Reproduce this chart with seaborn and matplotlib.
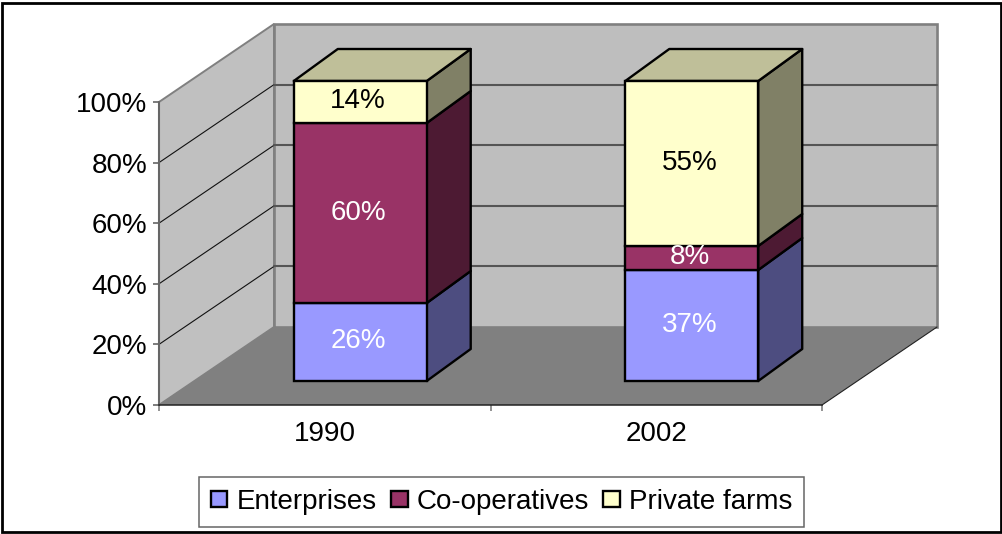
import numpy as np
import pandas as pd
import seaborn as sb
import matplotlib
matplotlib.use('Agg')
import matplotlib.pyplot as plt
from matplotlib.patches import Polygon, Rectangle
from matplotlib.transforms import Affine2D, IdentityTransform

years = ['1990', '2002']
series_names = ['Enterprises', 'Co-operatives', 'Private farms']
enterprises = [26, 37]
cooperatives = [60, 8]
private_farms = [14, 55]
y_ticks = [0, 20, 40, 60, 80, 100]

series_values = [enterprises, cooperatives, private_farms]
colors = ['#9999FF', '#993366', '#FFFFCC']
label_colors = ['white', 'white', 'black']

sb.set_theme(style='white')
plt.rcParams['font.family'] = ['Liberation Sans', 'DejaVu Sans']
plt.rcParams['text.color'] = 'black'
fontsize = 20

W, H = 1003, 534
fig = plt.figure(figsize=(W / 100, H / 100), dpi=100)

# front plane of the fake 3d box, in pixels
left, right, base, top = 159, 822, H - 405, H - 102
ax = fig.add_axes([left / W, base / H, (right - left) / W, (top - base) / H])
ax.patch.set_visible(False)

# bars first, then push them into the box
bottom = np.zeros(len(years))
for name, vals, col in zip(series_names, series_values, colors):
    df = pd.DataFrame({'year': years, 'share': vals})
    sb.barplot(data=df, x='year', y='share', bottom=bottom, color=col, saturation=1,
               width=0.401, edgecolor='black', linewidth=1.7, ax=ax)
    bottom = bottom + np.array(vals)

ax.set_xlim(-0.5, 1.5)
ax.set_ylim(0, 100)

wall_shift = ax.transData + Affine2D().translate(115, 78)
bar_shift = ax.transData + Affine2D().translate(0, -base).scale(1, 300 / 303).translate(35.5, base + 24)

# walls and floor
wall_kw = dict(clip_on=False, zorder=0.5)
pts = lambda xy, tr: tr.transform(np.array(xy))
x0, x1 = ax.get_xlim()
ax.add_patch(Polygon(np.vstack([pts([(x0, 0), (x0, 100)], ax.transData),
                                pts([(x0, 100), (x0, 0)], wall_shift)]),
                     transform=IdentityTransform(), fc='#C0C0C0', ec='#808080', lw=1.4, **wall_kw))
ax.add_patch(Polygon(pts([(x0, 0), (x0, 100), (x1, 100), (x1, 0)], wall_shift),
                     transform=IdentityTransform(), fc='#BEBEBE', ec='#808080', lw=1.9, **wall_kw))
ax.add_patch(Polygon(np.vstack([pts([(x0, 0), (x1, 0)], ax.transData),
                                pts([(x1, 0), (x0, 0)], wall_shift)]),
                     transform=IdentityTransform(), fc='#808080', ec='none', clip_on=False, zorder=0.7))

# gridlines
for t in y_ticks[1:-1]:
    a = pts([(x0, t)], ax.transData)[0]
    b = pts([(x0, t)], wall_shift)[0]
    c = pts([(x1, t)], wall_shift)[0]
    ax.plot([a[0], b[0]], [a[1], b[1]], color='#111111', lw=0.8, transform=IdentityTransform(),
            clip_on=False, zorder=0.8)
    ax.plot([b[0], c[0]], [b[1], c[1]], color='#555555', lw=1.5, transform=IdentityTransform(),
            clip_on=False, zorder=0.8)
a = pts([(x1, 0)], ax.transData)[0]
b = pts([(x1, 0)], wall_shift)[0]
ax.plot([a[0], b[0]], [a[1], b[1]], color='#222222', lw=0.8, transform=IdentityTransform(),
        clip_on=False, zorder=0.8)

# bar side and top faces
dx, dy = 44, 32
for i, cont in enumerate(ax.containers):
    rgb = np.array(matplotlib.colors.to_rgb(colors[i]))
    for j, bar in enumerate(cont):
        bx, by, bw, bh = bar.get_x(), bar.get_y(), bar.get_width(), bar.get_height()
        bar.set_transform(bar_shift)
        bar.set_clip_on(False)
        bar.set_zorder(3)
        ll = pts([(bx + bw, by), (bx + bw, by + bh)], bar_shift)
        side = np.vstack([ll, ll[::-1] + [dx, dy]])
        ax.add_patch(Polygon(side, transform=IdentityTransform(), fc=rgb * 0.5, ec='black', lw=1.7,
                             clip_on=False, zorder=2, joinstyle='round'))
        if i == len(series_names) - 1:
            tt = pts([(bx, by + bh), (bx + bw, by + bh)], bar_shift)
            roof = np.vstack([tt, tt[::-1] + [dx, dy]])
            ax.add_patch(Polygon(roof, transform=IdentityTransform(), fc=rgb * 0.75, ec='black', lw=1.7,
                                 clip_on=False, zorder=2, joinstyle='round'))
        ax.text(j, by + bh / 2, f'{series_values[i][j]}%', ha='center', va='center',
                color=label_colors[i], fontsize=fontsize, clip_on=False, zorder=5,
                transform=bar_shift + Affine2D().translate(-2, 0.5))

# axes
for s in ['top', 'right', 'left']:
    ax.spines[s].set_visible(False)
ax.spines['bottom'].set_color('#222222')
ax.spines['bottom'].set_linewidth(1.1)
ax.spines['bottom'].set_zorder(1)
ax.plot([x0, x0], [0, 100], color='#666666', lw=1.5, clip_on=False, zorder=1)

ax.set_yticks(y_ticks)
ax.set_yticklabels([f'{t}%' for t in y_ticks])
ax.set_xticks([0, 1])
ax.set_xticklabels(years)
ax.set_xticks([-0.5, 0.5, 1.5], minor=True)
ax.set_xlabel('')
ax.set_ylabel('')
ax.tick_params(axis='y', length=4.3, width=1.2, color='#666666', pad=4, labelsize=fontsize,
               labelcolor='black', left=True)
ax.tick_params(axis='x', which='major', length=0, pad=11.5, labelsize=fontsize, labelcolor='black')
ax.tick_params(axis='x', which='minor', length=4.3, width=1.2, color='#808080', bottom=True)

leg = ax.legend(handles=[c[0] for c in ax.containers], labels=series_names, ncol=3,
                loc='center', bbox_to_anchor=(501.5 / W, (H - 502) / H), bbox_transform=fig.transFigure,
                frameon=True, fancybox=False, edgecolor='#666666', framealpha=1, fontsize=fontsize,
                handlelength=0.61, handleheight=0.5, handletextpad=0.33, columnspacing=0.5,
                borderpad=0.42, borderaxespad=0, labelcolor='black')
leg.get_frame().set_linewidth(1.1)

# chart border
fig.add_artist(Rectangle((2 / W, 2 / H), 999.5 / W, 529 / H, transform=fig.transFigure, fill=False,
                         ec='black', lw=2.0))

fig.savefig('out.png', dpi=100, facecolor='white')
